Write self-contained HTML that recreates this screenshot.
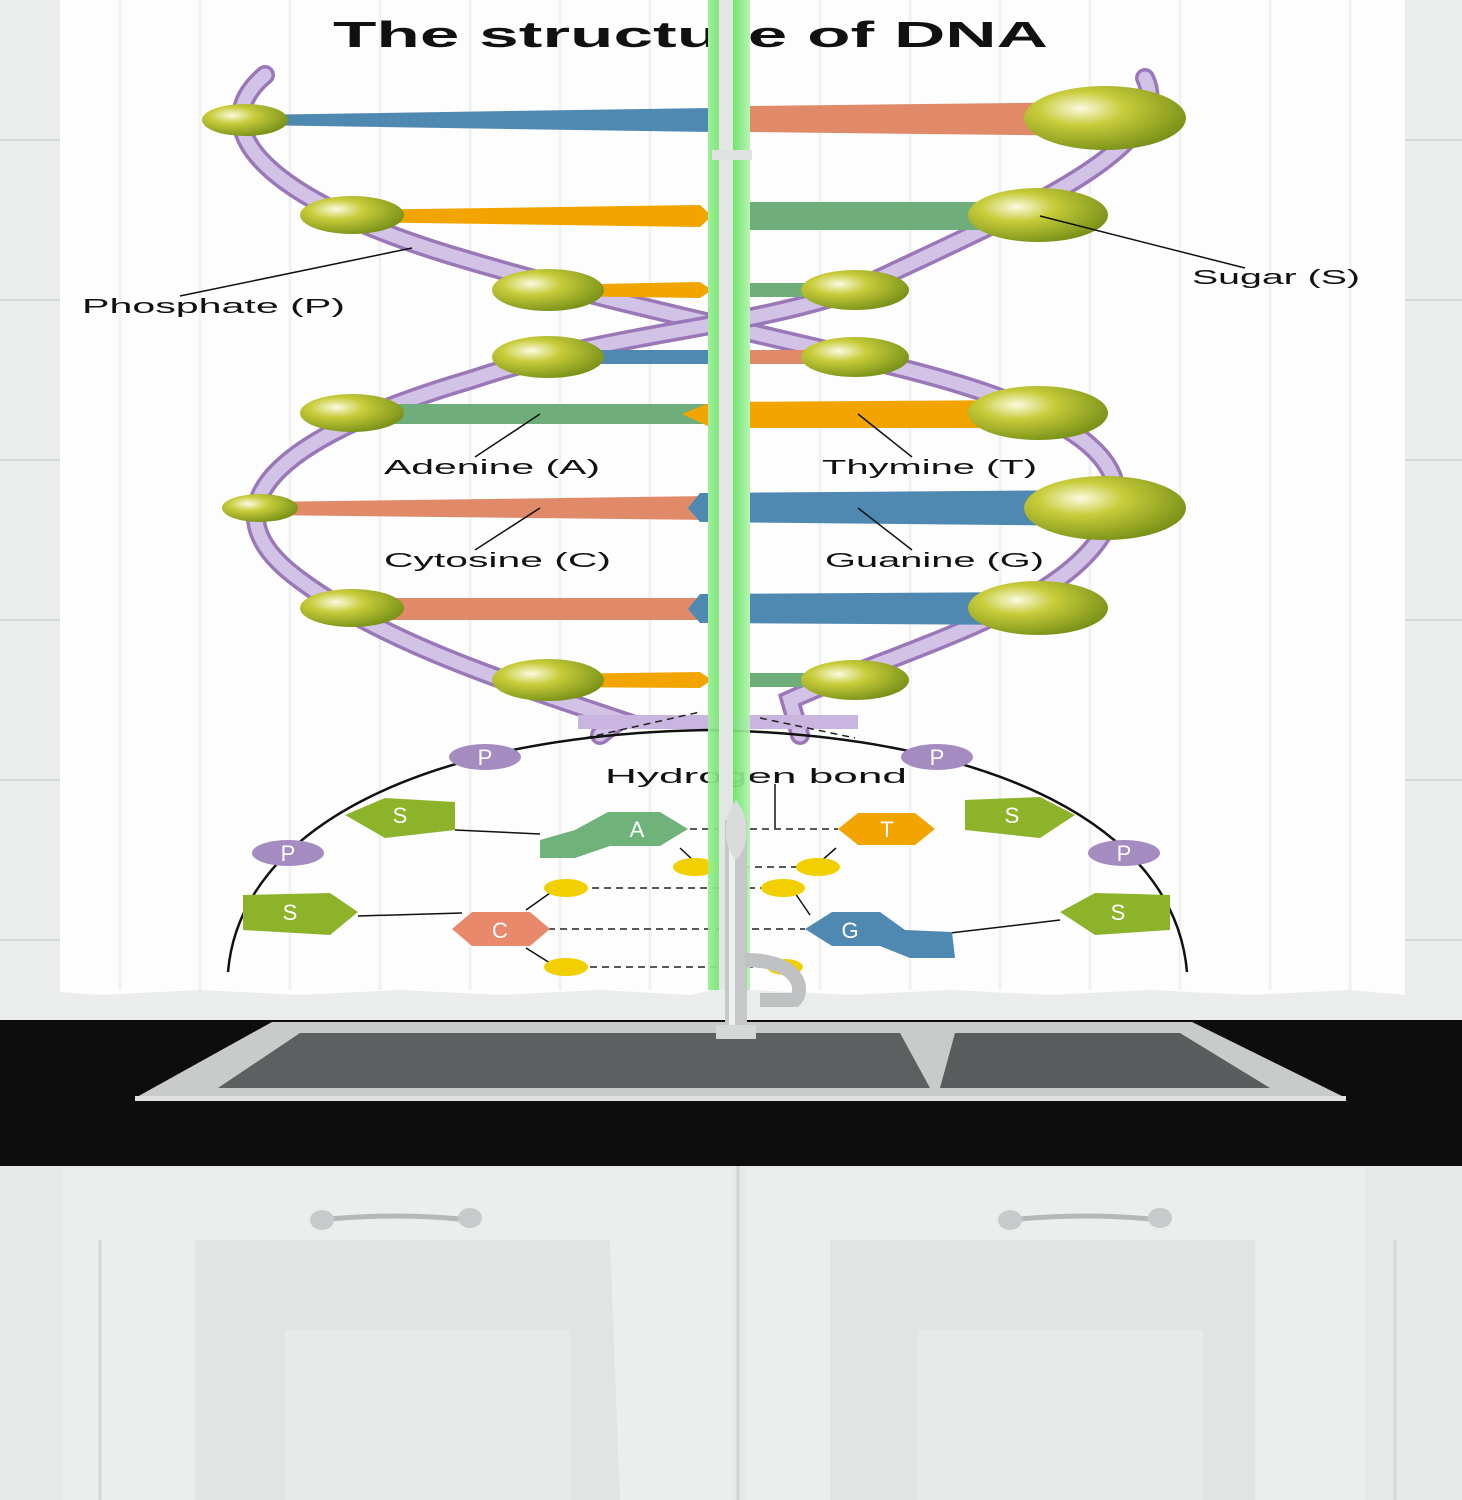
<!DOCTYPE html>
<html><head><meta charset="utf-8"><style>
html,body{margin:0;padding:0;background:#e9ebeb;}
svg{display:block}
text{font-family:"Liberation Sans",sans-serif;}
</style></head><body>
<svg width="1462" height="1500" viewBox="0 0 1462 1500" xmlns="http://www.w3.org/2000/svg">
<defs>
<radialGradient id="sph" cx="0.35" cy="0.35" r="0.75">
<stop offset="0" stop-color="#fbfbe0"/><stop offset="0.35" stop-color="#c8cc3a"/><stop offset="1" stop-color="#6f8a14"/>
</radialGradient>
<linearGradient id="win" x1="0" x2="1"><stop offset="0" stop-color="#9ef09a"/><stop offset="0.5" stop-color="#5fe05a"/><stop offset="1" stop-color="#b8f5b4"/></linearGradient>
</defs>
<rect x="0" y="0" width="1462" height="1020" fill="#ebeded"/>
<g stroke="#d6d9d9" stroke-width="2">
<line x1="0" y1="140" x2="60" y2="140"/><line x1="0" y1="300" x2="60" y2="300"/><line x1="0" y1="460" x2="60" y2="460"/><line x1="0" y1="620" x2="60" y2="620"/><line x1="0" y1="780" x2="60" y2="780"/><line x1="0" y1="940" x2="60" y2="940"/>
<line x1="1405" y1="140" x2="1462" y2="140"/><line x1="1405" y1="300" x2="1462" y2="300"/><line x1="1405" y1="460" x2="1462" y2="460"/><line x1="1405" y1="620" x2="1462" y2="620"/><line x1="1405" y1="780" x2="1462" y2="780"/><line x1="1405" y1="940" x2="1462" y2="940"/>
</g>
<path d="M60 0 H712 V990 L690 995 L600 990 L500 995 L400 990 L300 995 L200 990 L100 995 L60 992 Z" fill="#fdfdfd"/>
<path d="M750 0 H1405 V995 L1350 990 L1250 995 L1150 990 L1050 995 L950 990 L850 995 L750 990 Z" fill="#fdfdfd"/>
<g stroke="#f1f1f1" stroke-width="3">
<line x1="120" y1="0" x2="120" y2="990"/><line x1="200" y1="0" x2="200" y2="990"/><line x1="290" y1="0" x2="290" y2="990"/><line x1="380" y1="0" x2="380" y2="990"/><line x1="470" y1="0" x2="470" y2="990"/><line x1="560" y1="0" x2="560" y2="990"/><line x1="650" y1="0" x2="650" y2="990"/>
<line x1="820" y1="0" x2="820" y2="990"/><line x1="910" y1="0" x2="910" y2="990"/><line x1="1000" y1="0" x2="1000" y2="990"/><line x1="1090" y1="0" x2="1090" y2="990"/><line x1="1180" y1="0" x2="1180" y2="990"/><line x1="1270" y1="0" x2="1270" y2="990"/><line x1="1350" y1="0" x2="1350" y2="990"/>
</g>

<text x="333" y="47" font-size="36" font-weight="bold" textLength="715" lengthAdjust="spacingAndGlyphs" fill="#111">The structure of DNA</text>

<g fill="none" stroke-linecap="round">
<path d="M265 75 C200 130 270 200 450 255 C600 300 700 320 855 357 C1000 390 1160 440 1105 530 C1060 610 900 650 790 700 L800 735" stroke="#9a78b8" stroke-width="20"/>
<path d="M265 75 C200 130 270 200 450 255 C600 300 700 320 855 357 C1000 390 1160 440 1105 530 C1060 610 900 650 790 700 L800 735" stroke="#d2c2e6" stroke-width="13"/>
<path d="M1145 78 C1180 150 1000 220 855 290 C740 330 620 330 470 380 C300 430 190 500 300 580 C380 640 500 680 620 720 L600 735" stroke="#9a78b8" stroke-width="20"/>
<path d="M1145 78 C1180 150 1000 220 855 290 C740 330 620 330 470 380 C300 430 190 500 300 580 C380 640 500 680 620 720 L600 735" stroke="#d2c2e6" stroke-width="13"/>
</g>
<g>
<polygon points="245,115 712,108 712,132 245,125" fill="#4f88b0"/><polygon points="750,106 1105,102 1105,136 750,132" fill="#e08a6a"/>
<polygon points="350,210 700,205 712,216 700,227 350,222" fill="#f2a500"/><polygon points="750,202 1038,202 1038,230 750,230" fill="#6fae7a"/>
<polygon points="548,285 700,282 712,290 700,298 548,296" fill="#f2a500"/><polygon points="750,283 855,283 855,297 750,297" fill="#6fae7a"/>
<rect x="548" y="350" width="164" height="14" fill="#4f88b0"/><rect x="750" y="350" width="105" height="14" fill="#e08a6a"/>
<rect x="350" y="404" width="362" height="20" fill="#6fae7a"/><polygon points="682,414 712,402 1038,400 1038,428 712,428" fill="#f2a500"/>
<polygon points="260,502 712,496 712,520 260,515" fill="#e08a6a"/><polygon points="688,508 700,493 1105,490 1105,526 700,522" fill="#4f88b0"/>
<rect x="350" y="598" width="362" height="22" fill="#e08a6a"/><polygon points="688,609 700,594 1038,592 1038,625 700,623" fill="#4f88b0"/>
<polygon points="548,674 700,672 712,680 700,688 548,687" fill="#f2a500"/><rect x="750" y="673" width="105" height="14" fill="#6fae7a"/>
</g>
<!-- window gap -->
<rect x="708" y="0" width="42" height="990" fill="url(#win)"/>
<rect x="719" y="0" width="14" height="990" fill="#e4e6e6"/>
<rect x="712" y="150" width="40" height="10" fill="#e0e2e2"/>

<g fill="url(#sph)">
<ellipse cx="245" cy="120" rx="43" ry="16"/><ellipse cx="1105" cy="118" rx="81" ry="32"/>
<ellipse cx="352" cy="215" rx="52" ry="19"/><ellipse cx="1038" cy="215" rx="70" ry="27"/>
<ellipse cx="548" cy="290" rx="56" ry="21"/><ellipse cx="855" cy="290" rx="54" ry="20"/>
<ellipse cx="548" cy="357" rx="56" ry="21"/><ellipse cx="855" cy="357" rx="54" ry="20"/>
<ellipse cx="352" cy="413" rx="52" ry="19"/><ellipse cx="1038" cy="413" rx="70" ry="27"/>
<ellipse cx="260" cy="508" rx="38" ry="14"/><ellipse cx="1105" cy="508" rx="81" ry="32"/>
<ellipse cx="352" cy="608" rx="52" ry="19"/><ellipse cx="1038" cy="608" rx="70" ry="27"/>
<ellipse cx="548" cy="680" rx="56" ry="21"/><ellipse cx="855" cy="680" rx="54" ry="20"/>
</g>
<g stroke="#111" stroke-width="1.5">
<line x1="180" y1="296" x2="412" y2="248"/><line x1="1040" y1="216" x2="1245" y2="268"/>
<line x1="475" y1="457" x2="540" y2="414"/><line x1="858" y1="414" x2="912" y2="457"/>
<line x1="475" y1="550" x2="540" y2="508"/><line x1="858" y1="508" x2="912" y2="550"/>
</g>
<g font-size="20" fill="#111" lengthAdjust="spacingAndGlyphs">
<text x="82" y="313" textLength="263" lengthAdjust="spacingAndGlyphs">Phosphate (P)</text>
<text x="1192" y="284" textLength="168" lengthAdjust="spacingAndGlyphs">Sugar (S)</text>
<text x="384" y="474" textLength="216" lengthAdjust="spacingAndGlyphs">Adenine (A)</text>
<text x="822" y="474" textLength="215" lengthAdjust="spacingAndGlyphs">Thymine (T)</text>
<text x="384" y="567" textLength="227" lengthAdjust="spacingAndGlyphs">Cytosine (C)</text>
<text x="825" y="567" textLength="219" lengthAdjust="spacingAndGlyphs">Guanine (G)</text>
<text x="605" y="783" textLength="302" lengthAdjust="spacingAndGlyphs">Hydrogen bond</text>
</g>
<rect x="578" y="715" width="280" height="14" fill="#c9b5e0"/>
<g stroke="#222" stroke-width="1.5" stroke-dasharray="7,5" fill="none">
<line x1="585" y1="738" x2="700" y2="712"/><line x1="760" y1="718" x2="855" y2="738"/>
<line x1="568" y1="888" x2="783" y2="888"/><line x1="695" y1="867" x2="818" y2="867"/>
<line x1="548" y1="929" x2="805" y2="929"/><line x1="566" y1="967" x2="785" y2="967"/>
<line x1="690" y1="829" x2="838" y2="829"/>
</g>
<path d="M228 972 C240 830 420 735 707 730 C1000 735 1175 830 1187 972" fill="none" stroke="#111" stroke-width="2.5"/>
<g stroke="#111" stroke-width="1.5" fill="none">
<line x1="455" y1="830" x2="540" y2="834"/><line x1="358" y1="916" x2="462" y2="913"/>
<line x1="950" y1="933" x2="1060" y2="920"/><line x1="775" y1="784" x2="775" y2="828"/>
<polyline points="526,910 550,893"/><polyline points="526,948 550,963"/><polyline points="680,848 695,862"/><polyline points="836,848 820,862"/><polyline points="810,915 795,893"/>
</g>
<g fill="#a58cc0"><ellipse cx="485" cy="757" rx="36" ry="13"/><ellipse cx="937" cy="757" rx="36" ry="13"/><ellipse cx="288" cy="853" rx="36" ry="13"/><ellipse cx="1124" cy="853" rx="36" ry="13"/></g>
<g fill="#8db32a">
<polygon points="345,815 385,798 455,802 455,830 385,838"/>
<polygon points="965,800 1040,797 1075,815 1040,838 965,830"/>
<polygon points="243,895 330,893 358,912 330,935 243,930"/>
<polygon points="1060,912 1095,893 1170,895 1170,930 1095,935"/>
</g>
<polygon points="540,840 575,830 608,812 660,812 688,829 660,846 610,846 575,858 540,858" fill="#6fb37a"/>
<polygon points="838,829 858,813 915,813 935,829 915,845 858,845" fill="#f2a500"/>
<polygon points="452,929 472,912 530,912 550,929 530,946 472,946" fill="#e8896b"/>
<polygon points="805,929 832,912 880,912 905,930 952,932 955,958 910,958 880,946 832,946" fill="#4f88b0"/>
<g fill="#f2cf00"><ellipse cx="566" cy="888" rx="22" ry="9"/><ellipse cx="695" cy="867" rx="22" ry="9"/><ellipse cx="818" cy="867" rx="22" ry="9"/><ellipse cx="783" cy="888" rx="22" ry="9"/><ellipse cx="566" cy="967" rx="22" ry="9"/><ellipse cx="785" cy="967" rx="18" ry="8"/></g>
<g fill="#fff" font-size="22" text-anchor="middle">
<text x="485" y="765">P</text><text x="937" y="765">P</text><text x="288" y="861">P</text><text x="1124" y="861">P</text>
<text x="400" y="823">S</text><text x="1012" y="823">S</text><text x="290" y="920">S</text><text x="1118" y="920">S</text>
<text x="637" y="837">A</text><text x="887" y="837">T</text><text x="500" y="938">C</text><text x="850" y="938">G</text>
</g>
<rect x="708" y="700" width="42" height="290" fill="url(#win)" opacity="0.9"/>
<rect x="719" y="690" width="14" height="300" fill="#e4e6e6"/>
<rect x="0" y="1020" width="1462" height="148" fill="#0d0d0d"/>
<polygon points="135,1098 272,1022 1192,1022 1346,1098" fill="#c9cbcb"/>
<polygon points="218,1088 300,1033 900,1033 930,1088" fill="#5d5f60"/>
<polygon points="940,1088 955,1033 1180,1033 1270,1088" fill="#5a5c5d"/>
<rect x="135" y="1096" width="1211" height="5" fill="#e0e2e2"/>
<rect x="725" y="820" width="22" height="215" fill="#c5c7c8"/>
<rect x="729" y="820" width="6" height="215" fill="#eef0f0"/>
<path d="M736 800 C720 820 725 850 736 860 C748 850 752 820 736 800Z" fill="#dadcdc"/>
<path d="M745 960 C800 960 805 990 795 1000 L760 1000" fill="none" stroke="#bfc1c2" stroke-width="14"/>
<rect x="716" y="1025" width="40" height="14" fill="#d6d8d8"/>
<rect x="0" y="1166" width="1462" height="334" fill="#e7e9e9"/>
<rect x="62" y="1168" width="670" height="332" fill="#eceeee"/>
<rect x="745" y="1168" width="620" height="332" fill="#eceeee"/>
<polygon points="195,1240 610,1240 620,1500 195,1500" fill="#e2e4e4"/>
<polygon points="830,1240 1255,1240 1255,1500 830,1500" fill="#e2e4e4"/>
<rect x="285" y="1330" width="285" height="170" fill="#e8eaea"/>
<rect x="918" y="1330" width="285" height="170" fill="#e8eaea"/>
<line x1="738" y1="1166" x2="738" y2="1500" stroke="#d0d3d3" stroke-width="3"/>
<line x1="100" y1="1240" x2="100" y2="1500" stroke="#d6d8d8" stroke-width="3"/>
<line x1="1395" y1="1240" x2="1395" y2="1500" stroke="#d6d8d8" stroke-width="3"/>
<path d="M320 1220 Q395 1212 470 1220" stroke="#b5b8b8" stroke-width="5" fill="none"/>
<ellipse cx="322" cy="1220" rx="12" ry="10" fill="#c8cbcb"/><ellipse cx="470" cy="1218" rx="12" ry="10" fill="#c8cbcb"/>
<path d="M1010 1220 Q1085 1212 1160 1220" stroke="#b5b8b8" stroke-width="5" fill="none"/>
<ellipse cx="1010" cy="1220" rx="12" ry="10" fill="#c8cbcb"/><ellipse cx="1160" cy="1218" rx="12" ry="10" fill="#c8cbcb"/>
</svg>
</body></html>
